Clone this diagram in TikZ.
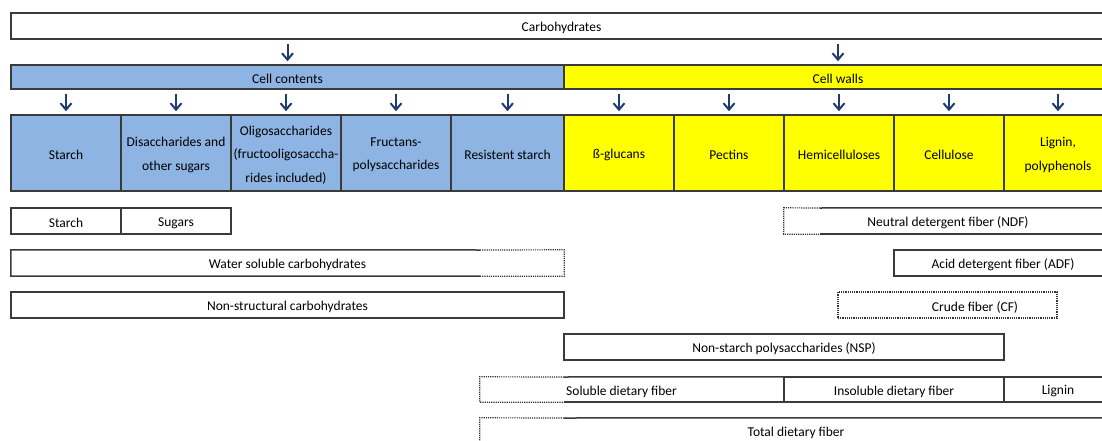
\documentclass[tikz,border=0pt]{standalone}
\usepackage{fontspec}
\setmainfont{Carlito}
\usetikzlibrary{arrows.meta}
\definecolor{lc}{HTML}{3A3A3A}
\definecolor{blu}{HTML}{8DB4E2}
\definecolor{yel}{HTML}{FFFF00}
\definecolor{arrc}{HTML}{1F3B73}
\tikzset{
 txt/.style={inner sep=0pt, font=\fontsize{13.5}{23.5}\selectfont, align=center, text=black},
 cellbox/.style={inner sep=0pt, draw=lc, line width=1.5pt},
 plainbox/.style={inner sep=0pt},
 solidl/.style={draw=lc, line width=1.5pt},
 dotl/.style={draw=black!80, line width=1.2pt, dash pattern=on 1.2pt off 1pt},
 down/.style={draw=arrc, line width=2pt, -{Straight Barb[length=6.5pt,width=11pt]}, shorten <=4pt, shorten >=3pt},
 bluecell/.style={cellbox, fill=blu},
 yelcell/.style={cellbox, fill=yel},
}
% \cellnode{style}{name}{x,y}{width}{height}{text}
\newcommand\cellnode[6]{%
  \node[#1, minimum width=#4, minimum height=#5] (#2) at (#3) {};
  \node[txt] (#2t) at ([yshift=-2pt]#2.center) {#6};}
\begin{document}
\begin{tikzpicture}[x=1pt,y=-1pt]
\useasboundingbox (0,0) rectangle (1102,441);
\clip (0,0) rectangle (1102,441);
% row 1
\cellnode{cellbox}{carb}{561.5,26}{1101}{26}{Carbohydrates}
% row 2
\cellnode{bluecell}{cc}{287.5,77}{553}{24}{Cell contents}
\cellnode{yelcell}{cw}{838,77}{548}{24}{Cell walls}
% row 3
\cellnode{bluecell}{s1}{66,153}{110}{76}{Starch}
\cellnode{bluecell}{s2}{176,153}{110}{76}{Disaccharides and\\other sugars}
\cellnode{bluecell}{s3}{286,153}{110}{76}{Oligosaccharides\\(fructooligosaccha-\\rides included)}
\cellnode{bluecell}{s4}{396,153}{110}{76}{Fructans-\\polysaccharides}
\cellnode{bluecell}{s5}{507.5,153}{113}{76}{Resistent starch}
\cellnode{yelcell}{s6}{619,153}{110}{76}{ß-glucans}
\cellnode{yelcell}{s7}{729,153}{110}{76}{Pectins}
\cellnode{yelcell}{s8}{839,153}{110}{76}{Hemicelluloses}
\cellnode{yelcell}{s9}{949,153}{110}{76}{Cellulose}
\cellnode{yelcell}{s10}{1058,153}{108}{76}{Lignin,\\polyphenols}
% arrows
\draw[down] (carb.south -| cc.north) -- (cc.north);
\draw[down] (carb.south -| cw.north) -- (cw.north);
\foreach \n in {s1,s2,s3,s4,s5} \draw[down] (cc.south -| \n.north) -- (\n.north);
\foreach \n in {s6,s7,s8,s9,s10} \draw[down] (cw.south -| \n.north) -- (\n.north);
% row 4
\cellnode{cellbox}{st}{66,221}{110}{26}{Starch}
\cellnode{cellbox}{sg}{176,221}{110}{26}{Sugars}
\cellnode{plainbox}{ndf}{948,221}{328}{26}{Neutral detergent fiber (NDF)}
\coordinate (ndfd) at (820,208);
\draw[solidl] (ndfd) -- (ndf.north east);
\draw[solidl] (ndfd |- ndf.south) -- (ndf.south east);
\draw[dotl] (ndfd) -- (ndf.north west) -- (ndf.south west) -- (ndfd |- ndf.south);
% row 5
\cellnode{plainbox}{wsc}{287.5,263}{553}{26}{Water soluble carbohydrates}
\coordinate (wscd) at (480,250);
\draw[solidl] (wscd) -- (wsc.north west) -- (wsc.south west) -- (wscd |- wsc.south);
\draw[dotl] (wscd) -- (wsc.north east) -- (wsc.south east) -- (wscd |- wsc.south);
\cellnode{cellbox}{adf}{1003,263}{218}{26}{Acid detergent fiber (ADF)}
% row 6
\cellnode{cellbox}{nsc}{287.5,305}{553}{26}{Non-structural carbohydrates}
\node[dotl, inner sep=0pt, minimum width=219, minimum height=26] (cf) at (947.5,305) {};
\node[txt] (cft) at ([yshift=-2pt]975,305) {Crude fiber (CF)};
% row 7
\cellnode{cellbox}{nsp}{784,347}{440}{26}{Non-starch polysaccharides (NSP)}
% row 8
\node[plainbox, minimum width=304, minimum height=25] (sol) at (632,389.5) {};
\node[txt, anchor=west] (solt) at ([yshift=-2pt]566,389.5) {Soluble dietary fiber};
\coordinate (sold) at (564,377);
\draw[solidl] (sold) -- (sol.north east);
\draw[solidl] (sold |- sol.south) -- (sol.south east);
\draw[dotl] (sold) -- (sol.north west) -- (sol.south west) -- (sold |- sol.south);
\cellnode{cellbox}{ins}{894,389.5}{220}{25}{Insoluble dietary fiber}
\cellnode{cellbox}{lig}{1058,389.5}{108}{25}{Lignin}
% row 9
\cellnode{plainbox}{tdf}{796,431}{632}{26}{Total dietary fiber}
\coordinate (tdfd) at (564,418);
\draw[solidl] (tdfd) -- (tdf.north east);
\draw[dotl] (tdfd) -- (tdf.north west) -- (tdf.south west);
\end{tikzpicture}
\end{document}
